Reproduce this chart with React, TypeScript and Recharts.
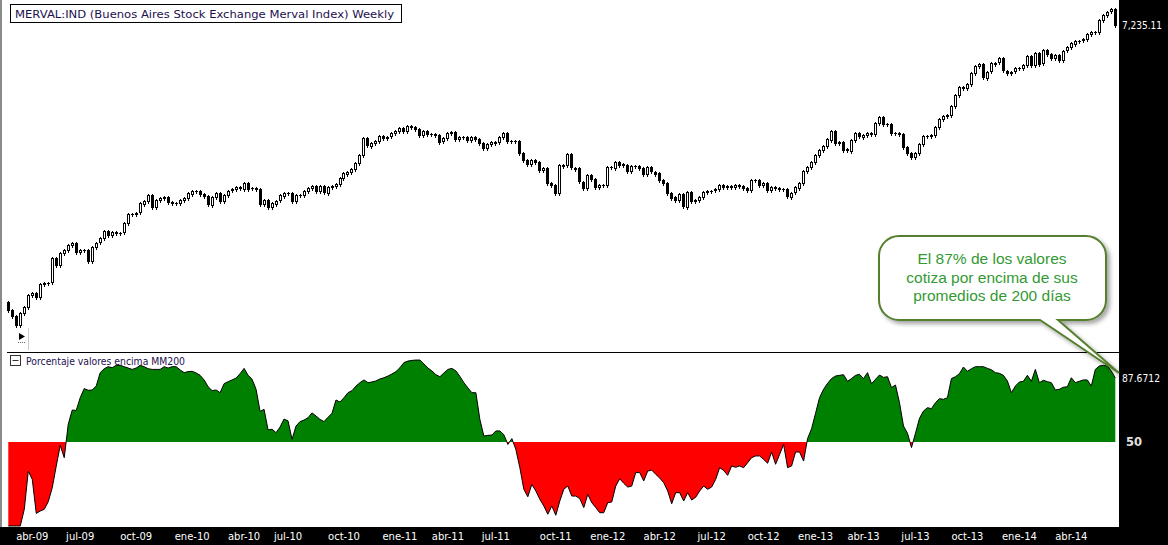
import { AreaChart, Area, BarChart, Bar, XAxis, YAxis } from 'recharts'

const closes = [
  1187, 1145, 1080, 1167, 1211, 1306, 1325, 1292, 1400, 1409,
  1412, 1648, 1579, 1708, 1737, 1793, 1819, 1715, 1737, 1740,
  1623, 1774, 1819, 1871, 1956, 1911, 1947, 1938, 1940, 2057,
  2179, 2183, 2201, 2336, 2374, 2462, 2278, 2385, 2412, 2428,
  2350, 2336, 2338, 2385, 2416, 2489, 2530, 2528, 2478, 2446,
  2321, 2435, 2499, 2374, 2462, 2530, 2552, 2585, 2569, 2662,
  2569, 2567, 2552, 2321, 2385, 2278, 2336, 2374, 2457, 2499,
  2497, 2374, 2462, 2460, 2525, 2569, 2606, 2525, 2606, 2504,
  2595, 2611, 2640, 2737, 2825, 2854, 2903, 3010, 3173, 3527,
  3365, 3423, 3474, 3586, 3541, 3563, 3641, 3695, 3758, 3695,
  3814, 3797, 3742, 3602, 3695, 3618, 3615, 3602, 3452, 3527,
  3641, 3664, 3511, 3557, 3555, 3489, 3563, 3511, 3417, 3310,
  3395, 3439, 3452, 3563, 3655, 3474, 3470, 3467, 3207, 3074,
  2991, 3074, 3029, 2885, 2916, 2651, 2623, 2489, 2978, 2965,
  3187, 2927, 2916, 2679, 2578, 2795, 2720, 2585, 2623, 2620,
  2935, 2930, 3041, 2991, 2978, 2872, 2959, 2955, 2916, 2813,
  2935, 2854, 2825, 2708, 2662, 2498, 2426, 2374, 2473, 2286,
  2514, 2374, 2385, 2435, 2514, 2530, 2528, 2552, 2623, 2585,
  2606, 2583, 2623, 2606, 2569, 2541, 2708, 2705, 2623, 2651,
  2541, 2585, 2569, 2552, 2550, 2435, 2499, 2585, 2662, 2872,
  2946, 3041, 3173, 3275, 3359, 3505, 3702, 3430, 3452, 3290,
  3261, 3489, 3641, 3563, 3602, 3641, 3625, 3894, 4045, 3862,
  3860, 3655, 3652, 3625, 3344, 3219, 3139, 3219, 3401, 3579,
  3580, 3602, 3782, 3979, 4063, 4089, 4328, 4642, 4874, 4843,
  4977, 5347, 5580, 5651, 5194, 5381, 5676, 5696, 5859, 5415,
  5347, 5381, 5498, 5495, 5615, 5944, 5615, 6070, 5676, 6175,
  6020, 5859, 5982, 5796, 6148, 6282, 6443, 6550, 6548, 6608,
  6834, 6921, 6920, 7468, 7709, 7872, 7992, 7235.11,
]
const firstOpen = 1250

// % of stocks above their 200-day average, same weeks
const pctAbove = [
  0.6, 0.6, 0.6, 0.6, 10.4, 32.9, 28, 8, 9.4, 10.4,
  14.9, 23.1, 35.9, 48, 40.8, 60.4, 68.8, 68.6, 76.1, 81.4,
  80.4, 80.6, 82.9, 90.8, 93.1, 94.3, 93.7, 95.1, 95.1, 94.3,
  93.5, 92.7, 93.5, 95.1, 94.3, 93.1, 92.7, 92.7, 92.7, 94.3,
  93.5, 94.3, 94.3, 92.4, 90.8, 91.4, 91.6, 90.6, 89.2, 86.5,
  82.5, 80.2, 80.6, 79, 84.3, 85.5, 86.5, 87.6, 90.2, 93.3,
  89.2, 86.9, 81, 68, 69.2, 57.1, 57.5, 55.5, 58.8, 63.5,
  62.4, 51.6, 59.4, 62, 62.9, 64.3, 67.1, 65.3, 63.3, 62,
  64.5, 66.9, 74.7, 73.5, 76.1, 79, 80.2, 82.9, 84.9, 86.5,
  84.9, 85.3, 85.9, 87.1, 87.8, 88.8, 90, 91.4, 93.7, 96.7,
  97.6, 98, 98.2, 98.2, 95.9, 93.5, 91.8, 89.6, 88.4, 90.6,
  92.7, 93.3, 91.8, 88.6, 84.9, 81.8, 79, 79, 63.3, 53.5,
  53.9, 54.1, 56.5, 56.5, 54.3, 48.6, 52, 45.7, 34.9, 22.2,
  17.8, 25.1, 21.2, 16.3, 12.4, 7.5, 12.4, 6.9, 15.3, 22.2,
  24.1, 18.2, 18.2, 16.7, 11.4, 19.2, 14.3, 11.4, 8.4, 8.4,
  14.3, 14.7, 24.1, 28.4, 25.7, 23.5, 24.1, 32, 32, 27.1,
  32.9, 33.5, 31, 28.8, 26.1, 21.2, 13.7, 20.2, 20.2, 15.3,
  20.2, 15.9, 17.5, 21.2, 24.1, 22.2, 23.5, 28, 34.9, 33.3,
  30.4, 35.9, 35.1, 35.9, 34.9, 37.8, 40.8, 41.8, 41.8, 39.8,
  37.5, 44.1, 36.9, 42.7, 48.6, 34.9, 35.9, 44.1, 44.1, 38.8,
  52, 57.8, 66.9, 76.1, 81, 84.5, 87.3, 88.8, 89.2, 89.6,
  85.7, 87.3, 89.2, 89.8, 87.3, 90.8, 84.3, 86.9, 89.4, 88,
  88.4, 82, 83.5, 73.1, 59.4, 55.1, 46.7, 55.1, 63.9, 68.2,
  70.2, 69.6, 73.1, 75.5, 75.1, 76.1, 87.3, 88.4, 90.2, 94.1,
  91.6, 93.1, 94.3, 94.3, 94.3, 93.3, 92.5, 90.8, 90.4, 89.2,
  85.9, 79, 82.9, 85.3, 85.7, 89.2, 85.7, 92.7, 84.9, 86.3,
  85.5, 84.9, 80.6, 81, 82.2, 82.5, 87.8, 84.9, 85.7, 86.5,
  86.5, 82.9, 92.7, 94.7, 95.1, 94.7, 91.8, 87.6712,
]

// first week of each quarter month and its label
const tickWeeks = [6, 18, 32, 46, 59, 70, 84, 98, 110, 122, 137, 150, 163, 176, 189, 202, 214, 227, 240, 253, 266]
const tickLabels = [
  'abr-09', 'jul-09', 'oct-09', 'ene-10', 'abr-10', 'jul-10', 'oct-10', 'ene-11', 'abr-11', 'jul-11',
  'oct-11', 'ene-12', 'abr-12', 'jul-12', 'oct-12', 'ene-13', 'abr-13', 'jul-13', 'oct-13', 'ene-14', 'abr-14',
]

const lastPrice = closes[closes.length - 1]
const lastPct = pctAbove[pctAbove.length - 1]

const candles = closes.map((c, i) => {
  const o = i === 0 ? firstOpen : closes[i - 1]
  return { i, open: o, close: c, range: [Math.min(o, c), Math.max(o, c)] }
})
const pctData = pctAbove.map((v, i) => ({ i, v }))

const pMax = Math.max(...pctAbove)
const pMin = Math.min(...pctAbove)
const splitOff = (pMax - 50) / (pMax - pMin)

const TEXT_NAVY = '#1d1050'

function Candle(props: any) {
  const { x, y, width, height, payload } = props
  if (x == null || y == null) return null
  const cx = Math.floor(x + width / 2) + 0.5
  const top = Math.round(y) + 0.5
  const h = Math.round(height)
  const up = payload.close >= payload.open
  return (
    <g shapeRendering="crispEdges">
      <line x1={cx} x2={cx} y1={top - 2} y2={top + Math.max(h, 0) + 2} stroke="#000" />
      {h >= 1 ? (
        <rect x={cx - 1} y={top} width={2} height={h} fill={up ? '#fff' : '#000'} stroke="#000" />
      ) : (
        <line x1={cx - 1.5} x2={cx + 1.5} y1={top} y2={top} stroke="#000" />
      )}
    </g>
  )
}

function PriceTick(props: any) {
  const { y, payload } = props
  return (
    <text x={1122} y={y + 4} fill="#fff" fontSize={10} fontFamily="DejaVu Sans" textLength={40} lengthAdjust="spacingAndGlyphs">
      {payload.value.toLocaleString('en-US', { minimumFractionDigits: 2 })}
    </text>
  )
}

function MonthTick(props: any) {
  const { x, payload } = props
  const label = tickLabels[tickWeeks.indexOf(payload.value)]
  return (
    <text x={x} y={187} fill="#fff" fontSize={10} fontFamily="DejaVu Sans" textAnchor="middle">
      {label}
    </text>
  )
}

function PctTick(props: any) {
  const { y, payload } = props
  if (payload.value === 50) {
    return (
      <text x={1126} y={y + 4.5} fill="#e0e0e0" fontSize={11.5} fontWeight="bold" fontFamily="DejaVu Sans">50</text>
    )
  }
  return (
    <text x={1122} y={y + 4} fill="#fff" fontSize={10} fontFamily="DejaVu Sans" textLength={38} lengthAdjust="spacingAndGlyphs">
      {payload.value}
    </text>
  )
}

export default function App() {
  return (
    <div style={{ position: 'absolute', left: 0, top: 0, width: 1168, height: 545, background: '#fff', overflow: 'hidden' }}>
      {/* frame pieces */}
      <div style={{ position: 'absolute', left: 0, top: 0, width: 2, height: 545, background: '#8a8a8a' }} />
      <div style={{ position: 'absolute', left: 1119, top: 0, width: 49, height: 545, background: '#000' }} />
      <div style={{ position: 'absolute', left: 0, top: 527, width: 1168, height: 18, background: '#000' }} />
      <div style={{ position: 'absolute', left: 7, top: 352, width: 1112, height: 1, background: '#000' }} />

      {/* price panel */}
      <div style={{ position: 'absolute', left: 0, top: 0 }}>
        <BarChart width={1168} height={352} data={candles} margin={{ top: 0, right: 0, bottom: 2, left: 6.3 }} barCategoryGap={0}>
          <XAxis dataKey="i" hide />
          <YAxis
            orientation="right" scale="log" domain={[921.3, 8478]} allowDataOverflow width={50.7}
            ticks={[lastPrice]} interval={0} tick={<PriceTick />} axisLine={false} tickLine={false}
          />
          <Bar dataKey="range" shape={<Candle />} isAnimationActive={false} />
        </BarChart>
      </div>

      {/* breadth panel */}
      <div style={{ position: 'absolute', left: 0, top: 353 }}>
        <AreaChart width={1168} height={192} data={pctData} margin={{ top: 0, right: 0, bottom: 0, left: 8.3 }}>
          <defs>
            <linearGradient id="splitFill" x1="0" y1="0" x2="0" y2="1">
              <stop offset={splitOff} stopColor="#008000" />
              <stop offset={splitOff} stopColor="#ff0000" />
            </linearGradient>
          </defs>
          <XAxis
            dataKey="i" type="number" domain={[0, closes.length - 1]} ticks={tickWeeks} interval={0}
            tick={<MonthTick />} axisLine={false} tickLine={false} height={18}
          />
          <YAxis
            orientation="right" domain={[0, 102.35]} allowDataOverflow width={52.7}
            ticks={[50, lastPct]} interval={0} tick={<PctTick />} axisLine={false} tickLine={false}
          />
          <Area
            type="linear" dataKey="v" baseValue={50} stroke="#000" strokeWidth={1}
            fill="url(#splitFill)" fillOpacity={1} dot={false} activeDot={false} isAnimationActive={false}
          />
        </AreaChart>
      </div>

      {/* labels and callout */}
      <svg width={1168} height={545} style={{ position: 'absolute', left: 0, top: 0, pointerEvents: 'none' }}>
        <defs>
          <filter id="shadow" x="-10%" y="-10%" width="130%" height="140%">
            <feDropShadow dx={3} dy={3} stdDeviation={2} floodColor="#000" floodOpacity={0.35} />
          </filter>
        </defs>
        <rect x={10.5} y={4.5} width={391} height={18} fill="#fff" stroke="#000" />
        <text x={15} y={17.5} fontSize={11} fontFamily="DejaVu Sans" fill={TEXT_NAVY} textLength={379} lengthAdjust="spacingAndGlyphs">
          MERVAL:IND (Buenos Aires Stock Exchange Merval Index) Weekly
        </text>

        <polygon points="19,333 25,336.5 19,340" fill="#000" />
        <line x1={18} x2={25} y1={342.5} y2={342.5} stroke="#666" strokeDasharray="1 1" />
        <line x1={28.5} x2={28.5} y1={328} y2={350} stroke="#ccc" />

        <rect x={10.5} y={355.5} width={10} height={10} fill="#fff" stroke="#333" />
        <line x1={12.5} x2={18.5} y1={360.5} y2={360.5} stroke="#333" />
        <text x={26} y={364.5} fontSize={10} fontFamily="DejaVu Sans" fill={TEXT_NAVY} textLength={159} lengthAdjust="spacingAndGlyphs">
          Porcentaje valores encima MM200
        </text>

        <path
          d="M 899 236 H 1086 A 20 20 0 0 1 1106 256 V 300 A 20 20 0 0 1 1086 320 H 1058 L 1119 373 L 1040 320 H 899 A 20 20 0 0 1 879 300 V 256 A 20 20 0 0 1 899 236 Z"
          fill="#fff" stroke="#557f2d" strokeWidth={2} filter="url(#shadow)"
        />
        <g fontFamily="Liberation Sans" fontSize={15.5} fill="#339933" textAnchor="middle">
          <text x={992} y={263.5}>El 87% de los valores</text>
          <text x={992} y={282.5}>cotiza por encima de sus</text>
          <text x={992} y={301}>promedios de 200 días</text>
        </g>
      </svg>
    </div>
  )
}
